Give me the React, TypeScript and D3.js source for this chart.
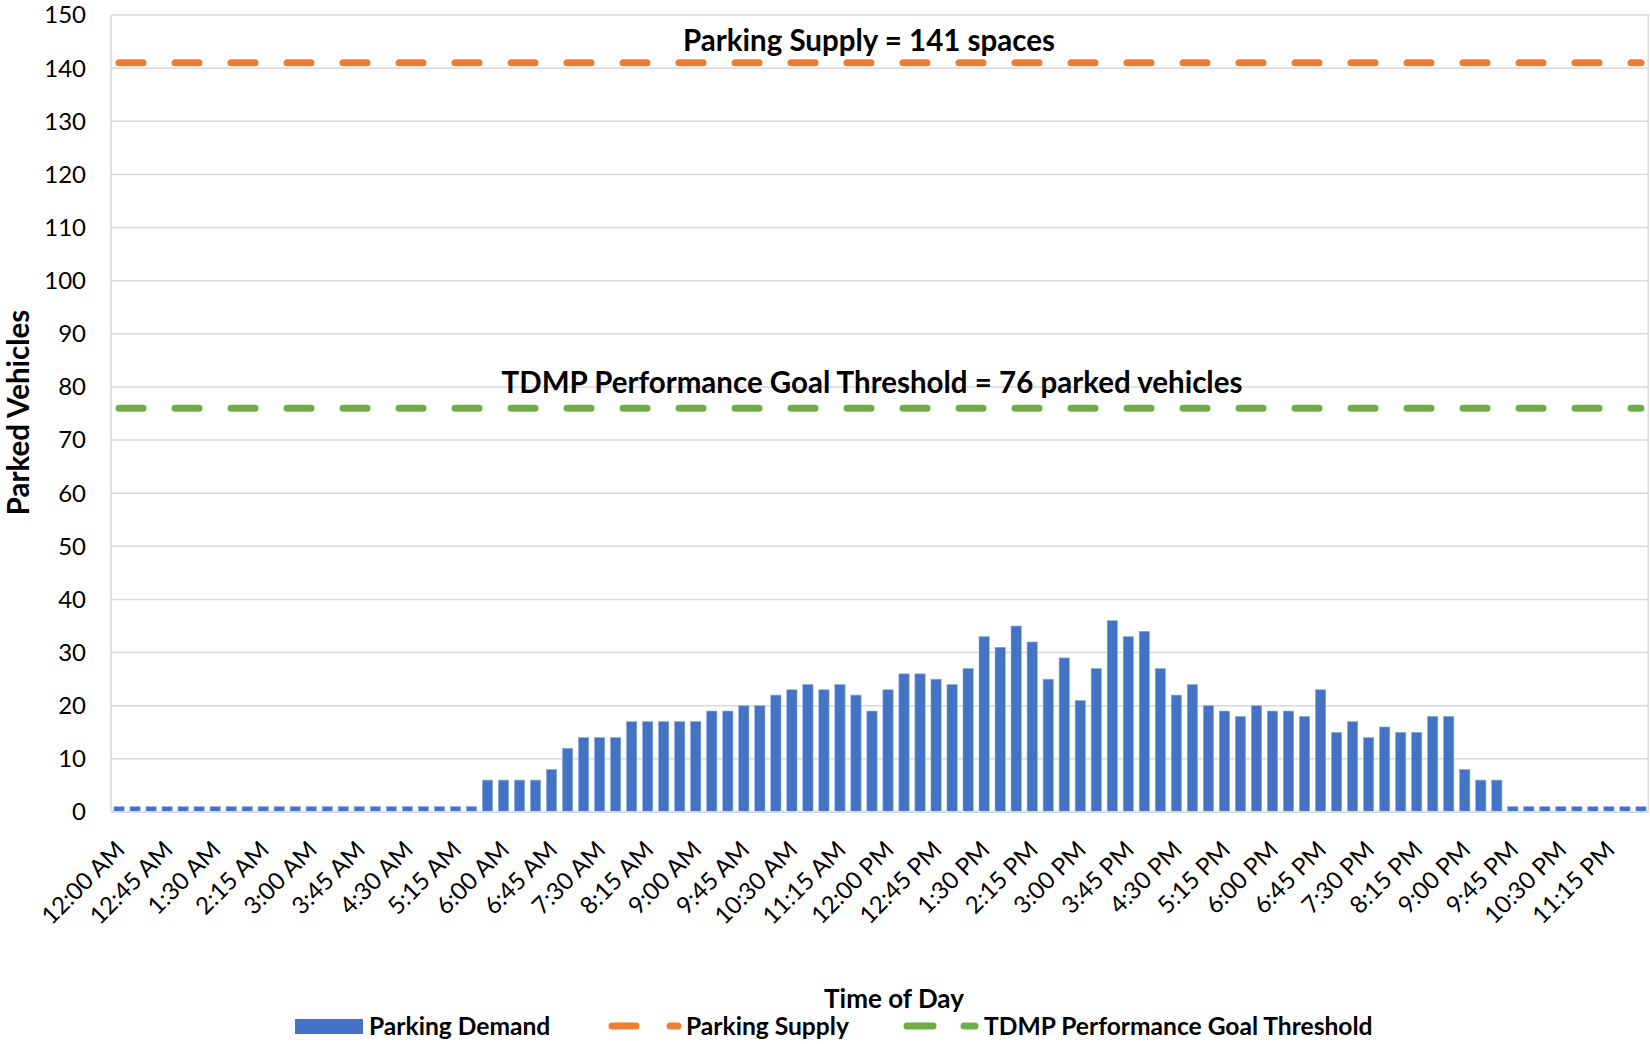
import React from "react";
import * as d3 from "d3";

const width = 1650;
const height = 1044;
const margin = { top: 15, right: 1, bottom: 232, left: 111 };

// 15-minute intervals across the day
const fmt = d3.timeFormat("%-I:%M %p");
const times: string[] = d3.range(96).map((i) => fmt(new Date(2020, 0, 1, 0, i * 15)));

const demand: number[] = [
  1, 1, 1, 1, 1, 1, 1, 1, 1, 1, 1, 1, 1, 1, 1, 1, 1, 1, 1, 1, 1, 1, 1,
  6, 6, 6, 6, 8, 12, 14, 14, 14, 17, 17, 17, 17, 17,
  19, 19, 20, 20, 22, 23, 24, 23, 24, 22, 19, 23, 26, 26, 25, 24, 27, 33, 31, 35,
  32, 25, 29, 21, 27, 36, 33, 34, 27, 22, 24,
  20, 19, 18, 20, 19, 19, 18, 23, 15, 17, 14, 16, 15, 15, 18, 18, 8, 6, 6,
  1, 1, 1, 1, 1, 1, 1, 1, 1,
];

const supply = 141;
const threshold = 76;
const yTicks: number[] = d3.range(0, 151, 10);
const tickLabels: string[] = times.filter((_, i) => i % 3 === 0);

const blue = "#4472C4";
const orange = "#ED7D31";
const green = "#70AD47";
const grid = "#d9d9d9";
const font = "Lato, 'Open Sans', sans-serif";

const App = () => {
  const x = d3
    .scaleBand<string>()
    .domain(times)
    .range([margin.left, width - margin.right])
    .paddingInner(0.36)
    .paddingOuter(0.18);
  const y = d3.scaleLinear().domain([0, 150]).range([height - margin.bottom, margin.top]);
  const cx = (t: string) => (x(t) as number) + x.bandwidth() / 2;

  const refLine = d3.line<string>().x((t) => cx(t));

  const x0 = x.range()[0];
  const x1 = x.range()[1];

  return (
    <svg width={width} height={height} style={{ display: "block", position: "absolute", left: 0, top: 0 }}>
      <rect width={width} height={height} fill="#fff" />
      {yTicks.map((v) => (
        <g key={v}>
          {v > 0 && <line x1={x0} x2={x1} y1={y(v)} y2={y(v)} stroke={grid} strokeWidth={1.5} />}
          <text x={86} y={y(v)} dy="0.35em" textAnchor="end" fontFamily={font} fontSize={24} fill="#000">
            {v}
          </text>
        </g>
      ))}
      <line x1={x0} x2={x0} y1={y(150)} y2={y(0)} stroke={grid} strokeWidth={1.5} />
      <line x1={x1 - 0.75} x2={x1 - 0.75} y1={y(150)} y2={y(0)} stroke={grid} strokeWidth={1.5} />

      {demand.map((d, i) => (
        <rect
          key={i}
          x={x(times[i])}
          y={y(d)}
          width={x.bandwidth()}
          height={y(0) - y(d)}
          fill={blue}
          stroke="#8eaadb"
          strokeWidth={0.6}
        />
      ))}
      <line x1={x0} x2={x1} y1={y(0)} y2={y(0)} stroke={grid} strokeWidth={2} />

      <path
        d={refLine.y(() => y(supply))(times) as string}
        fill="none"
        stroke={orange}
        strokeWidth={7}
        strokeLinecap="round"
        strokeDasharray="24 32"
      />
      <path
        d={refLine.y(() => y(threshold))(times) as string}
        fill="none"
        stroke={green}
        strokeWidth={7}
        strokeLinecap="round"
        strokeDasharray="24 32"
      />

      <text x={869} y={41} dy="0.35em" textAnchor="middle" fontFamily={font} fontWeight="bold" fontSize={29.5}>
        Parking Supply = {supply} spaces
      </text>
      <text x={872} y={383} dy="0.35em" textAnchor="middle" fontFamily={font} fontWeight="bold" fontSize={29.5}>
        TDMP Performance Goal Threshold = {threshold} parked vehicles
      </text>

      {tickLabels.map((t) => (
        <text
          key={t}
          transform={`translate(${cx(t) - 5},${y(0) + 27}) rotate(-45)`}
          dy="0.72em"
          textAnchor="end"
          fontFamily={font}
          fontSize={24}
          fill="#000"
        >
          {t}
        </text>
      ))}

      <text
        transform={`translate(19,${(y(0) + y(150)) / 2 - 1}) rotate(-90)`}
        dy="0.35em"
        textAnchor="middle"
        fontFamily={font}
        fontWeight="bold"
        fontSize={29.5}
      >
        Parked Vehicles
      </text>
      <text x={894} y={999} dy="0.35em" textAnchor="middle" fontFamily={font} fontWeight="bold" fontSize={26}>
        Time of Day
      </text>

      <g fontFamily={font} fontWeight="bold" fontSize={24.6}>
        <rect x={295} y={1019} width={68} height={15} fill={blue} />
        <text x={369} y={1026} dy="0.35em">Parking Demand</text>
        <line x1={612} x2={636} y1={1026} y2={1026} stroke={orange} strokeWidth={7} strokeLinecap="round" />
        <line x1={670} x2={678} y1={1026} y2={1026} stroke={orange} strokeWidth={7} strokeLinecap="round" />
        <text x={686} y={1026} dy="0.35em">Parking Supply</text>
        <line x1={907} x2={933} y1={1026} y2={1026} stroke={green} strokeWidth={7} strokeLinecap="round" />
        <line x1={964} x2={975} y1={1026} y2={1026} stroke={green} strokeWidth={7} strokeLinecap="round" />
        <text x={984} y={1026} dy="0.35em">TDMP Performance Goal Threshold</text>
      </g>
    </svg>
  );
};

export default App;
